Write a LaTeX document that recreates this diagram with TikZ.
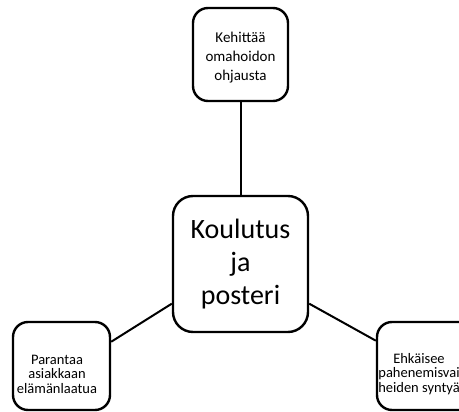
\documentclass[tikz,border=0pt]{standalone}
\usepackage{fontspec}
\setmainfont{Carlito}
\tikzset{
  box/.style={draw, line width=2.4pt, rounded corners=15pt, fill=white},
  txt/.style={align=center, font=\fontsize{14.5}{14.5}\selectfont, inner sep=0pt},
  link/.style={line width=2pt}
}
\begin{document}
\begin{tikzpicture}[x=1pt,y=-1pt]
\useasboundingbox (0,0) rectangle (459,412);
\clip (0,0) rectangle (459,412);
% centre
\node[box, rounded corners=20pt, minimum width=135pt, minimum height=136pt,
  align=center, font=\fontsize{28}{33}\selectfont] (koulutus) at (240.5,264) {Koulutus\\ja\\posteri};
% top
\node[box, minimum width=95pt, minimum height=93pt] (omahoito) at (240.5,54.5) {};
\node[txt, font=\fontsize{15}{19}\selectfont] (omahoitotxt) at (240.5,58) {Kehittää\\omahoidon\\ohjausta};
% bottom left
\node[box, minimum width=97pt, minimum height=88pt] (elama) at (61.5,366) {};
\node[txt] (elamatxt) at (57,374) {Parantaa\\asiakkaan\\elämänlaatua};
% bottom right
\node[box, minimum width=97pt, minimum height=88pt] (ehkaisy) at (425.5,366) {};
\node[txt] (ehkaisytxt) at (419,374) {Ehkäisee\\pahenemisvai\\heiden syntyä};

\path[link]
(omahoito) edge (koulutus)
(elama.26) edge (koulutus.210.6)
(koulutus.330) edge (ehkaisy.153.7);
\end{tikzpicture}
\end{document}
